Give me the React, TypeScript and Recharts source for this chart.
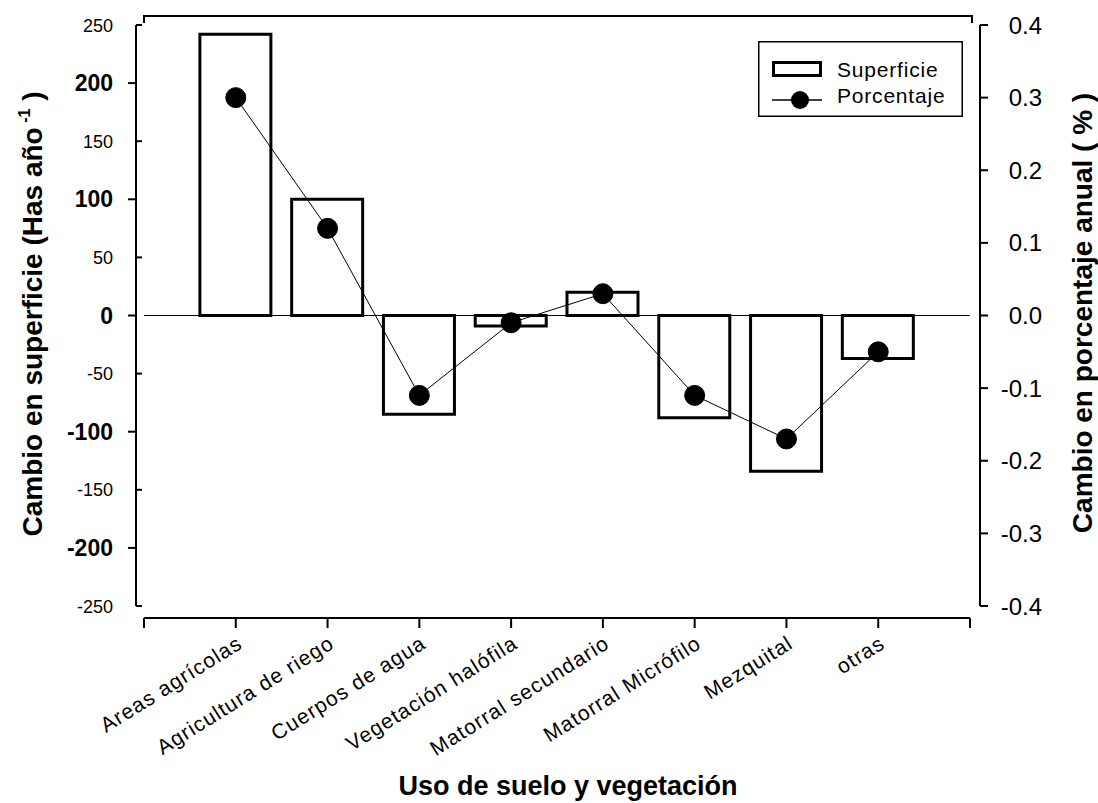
import { ComposedChart, Bar, Line, XAxis, YAxis, ReferenceLine, Legend } from 'recharts';

const CATEGORIES = [
  'Areas agrícolas',
  'Agricultura de riego',
  'Cuerpos de agua',
  'Vegetación halófila',
  'Matorral secundario',
  'Matorral Micrófilo',
  'Mezquital',
  'otras',
];
const SUPERFICIE = [242, 100, -85, -9, 20, -88, -134, -37];
const PORCENTAJE = [0.3, 0.12, -0.11, -0.01, 0.03, -0.11, -0.17, -0.05];

const X_TICKS = [0, 1, 2, 3, 4, 5, 6, 7, 8, 9];
const LEFT_TICKS = [-250, -200, -150, -100, -50, 0, 50, 100, 150, 200, 250];
const RIGHT_TICKS = [-0.4, -0.3, -0.2, -0.1, 0, 0.1, 0.2, 0.3, 0.4];

const rows = CATEGORIES.map((name, i) => ({
  pos: i + 1,
  name,
  superficie: SUPERFICIE[i],
  porcentaje: PORCENTAJE[i],
}));

const W = 1098;
const H = 803;
// plot area (includes axis padding)
const PLOT_L = 136;
const PLOT_R = 980;
const PLOT_T = 16;
const PLOT_B = 618;
const PAD = { left: 8, right: 10, top: 9, bottom: 12 };
const X0 = PLOT_L + PAD.left;
const X9 = PLOT_R - PAD.right;

const FONT = '"Liberation Sans", Arial, Helvetica, sans-serif';

function LeftTick({ x, y, payload }: any) {
  const v = payload.value;
  const major = v % 100 === 0;
  return (
    <g>
      <line x1={x} x2={major ? x - 8 : x + 6} y1={y} y2={y} stroke="#000" strokeWidth={2} />
      <text
        x={x - 23}
        y={y + (major ? 8 : 6.5)}
        textAnchor="end"
        fontFamily={FONT}
        fontSize={major ? 23 : 18}
        fontWeight={major ? 700 : 400}
        fill="#000"
      >
        {v}
      </text>
    </g>
  );
}

function RightTick({ x, y, payload }: any) {
  const v = payload.value as number;
  return (
    <g>
      <line x1={x} x2={x + 8} y1={y} y2={y} stroke="#000" strokeWidth={2} />
      <text x={x + 62} y={y + 8.5} textAnchor="end" fontFamily={FONT} fontSize={24} fill="#000">
        {v.toFixed(1)}
      </text>
    </g>
  );
}

function BottomTick({ x, y, payload }: any) {
  const label = CATEGORIES[payload.value - 1] ?? '';
  const tx = x + 8;
  const ty = y + 29;
  return (
    <g>
      <line x1={x} x2={x} y1={y} y2={y + 10} stroke="#000" strokeWidth={2} />
      {label && (
        <text
          x={tx}
          y={ty}
          transform={`rotate(-32, ${tx}, ${ty})`}
          textAnchor="end"
          fontFamily={FONT}
          fontSize={21}
          letterSpacing={1.1}
          fill="#000"
        >
          {label}
        </text>
      )}
    </g>
  );
}

function LegendBox() {
  return (
    <svg width={205} height={76} style={{ display: 'block' }}>
      <rect x={0.75} y={0.75} width={203.5} height={74.5} fill="#fff" stroke="#000" strokeWidth={1.5} />
      <rect x={15.5} y={21.5} width={47} height={13} fill="#fff" stroke="#000" strokeWidth={3} />
      <text x={79} y={35.5} fontFamily={FONT} fontSize={21} letterSpacing={0.8} fill="#000">
        Superficie
      </text>
      <line x1={14} x2={64} y1={59} y2={59} stroke="#000" strokeWidth={1.5} />
      <circle cx={42} cy={59} r={9} fill="#000" />
      <text x={79} y={62} fontFamily={FONT} fontSize={21} letterSpacing={0.8} fill="#000">
        Porcentaje
      </text>
    </svg>
  );
}

export default function App() {
  return (
    <div style={{ position: 'absolute', left: 0, top: 0, width: W, height: H, background: '#fff' }}>
      <ComposedChart
        width={W}
        height={H}
        data={rows}
        margin={{ top: PLOT_T, right: W - PLOT_R - 100, bottom: H - PLOT_B - 150, left: PLOT_L - 100 }}
      >
        <XAxis
          dataKey="pos"
          type="number"
          domain={[0, 9]}
          ticks={X_TICKS}
          interval={0}
          padding={{ left: PAD.left, right: PAD.right }}
          height={150}
          axisLine={false}
          tickLine={false}
          tickSize={0}
          tickMargin={0}
          tick={<BottomTick />}
        />
        <YAxis
          yAxisId="left"
          orientation="left"
          domain={[-250, 250]}
          ticks={LEFT_TICKS}
          interval={0}
          padding={{ top: PAD.top, bottom: PAD.bottom }}
          width={100}
          axisLine={false}
          tickLine={false}
          tickSize={0}
          tickMargin={0}
          tick={<LeftTick />}
          label={{
            content: () => (
              <text
                x={42}
                y={314}
                transform="rotate(-90, 42, 314)"
                textAnchor="middle"
                fontFamily={FONT}
                fontSize={28}
                fontWeight={700}
                fill="#000"
              >
                Cambio en superficie (Has año
                <tspan fontSize={16} dy={-12}> -1</tspan>
                <tspan dy={12}> )</tspan>
              </text>
            ),
          }}
        />
        <YAxis
          yAxisId="right"
          orientation="right"
          domain={[-0.4, 0.4]}
          ticks={RIGHT_TICKS}
          interval={0}
          padding={{ top: PAD.top, bottom: PAD.bottom }}
          width={100}
          axisLine={false}
          tickLine={false}
          tickSize={0}
          tickMargin={0}
          tick={<RightTick />}
          label={{
            content: () => (
              <text
                x={1092}
                y={313}
                transform="rotate(-90, 1092, 313)"
                textAnchor="middle"
                fontFamily={FONT}
                fontSize={28}
                fontWeight={700}
                fill="#000"
              >
                Cambio en porcentaje anual ( % )
              </text>
            ),
          }}
        />
        <ReferenceLine
          yAxisId="left"
          segment={[{ x: 0, y: 0 }, { x: 9, y: 0 }]}
          stroke="#000"
          strokeWidth={1}
        />
        <Bar
          yAxisId="left"
          dataKey="superficie"
          barSize={71}
          fill="#fff"
          stroke="#000"
          strokeWidth={3}
          isAnimationActive={false}
        />
        <Line
          yAxisId="right"
          dataKey="porcentaje"
          stroke="#000"
          strokeWidth={1}
          dot={{ r: 10, fill: '#000', stroke: '#000', strokeWidth: 1 }}
          activeDot={false}
          isAnimationActive={false}
        />
        <Legend
          layout="vertical"
          align="center"
          verticalAlign="middle"
          content={() => <LegendBox />}
          wrapperStyle={{ left: 758, top: 41, width: 205, height: 76 }}
        />
      </ComposedChart>
      <svg
        width={W}
        height={H}
        style={{ position: 'absolute', left: 0, top: 0, pointerEvents: 'none' }}
      >
        <g stroke="#000" strokeWidth={2} fill="none">
          <line x1={PLOT_L} x2={PLOT_L} y1={PLOT_T + PAD.top} y2={PLOT_B - PAD.bottom} />
          <line x1={PLOT_R} x2={PLOT_R} y1={PLOT_T + PAD.top} y2={PLOT_B - PAD.bottom} />
          <line x1={X0} x2={X9} y1={PLOT_B} y2={PLOT_B} />
          <polyline points={`${X0},${PLOT_T + 7} ${X0},${PLOT_T} ${X9 + 2},${PLOT_T} ${X9 + 2},${PLOT_T + 7}`} />
        </g>
        <text x={568} y={795} textAnchor="middle" fontFamily={FONT} fontSize={27} fontWeight={700} fill="#000">
          Uso de suelo y vegetación
        </text>
      </svg>
    </div>
  );
}
